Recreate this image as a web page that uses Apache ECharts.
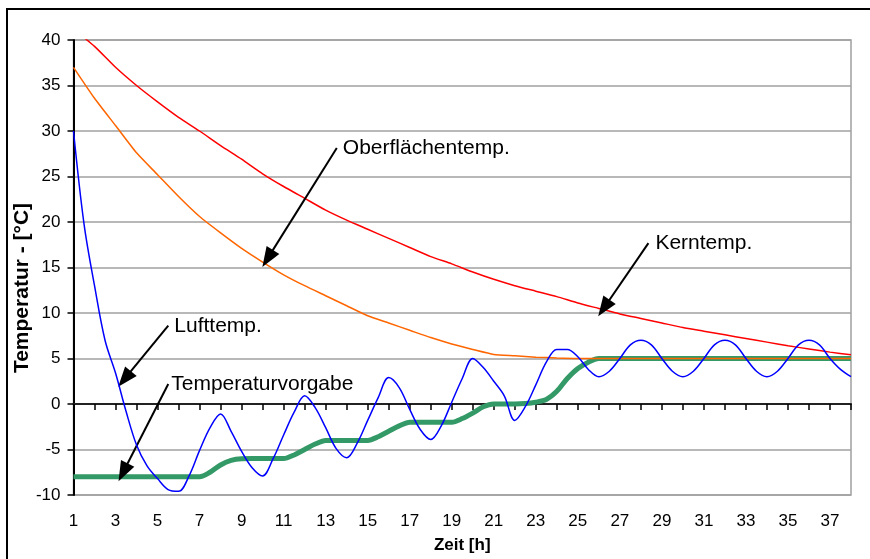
<!DOCTYPE html>
<html>
<head>
<meta charset="utf-8">
<script src="https://cdn.jsdelivr.net/npm/echarts@6/dist/echarts.min.js"></script>
<style>
html,body{margin:0;padding:0;background:#fff;overflow:hidden}
#frame{position:absolute;left:6px;top:8px;width:900px;height:600px;border-left:2px solid #000;border-top:2px solid #000}
#chart{position:absolute;left:0;top:0;width:870px;height:559px}
</style>
</head>
<body>
<div id="frame"></div>
<div id="chart"></div>
<script>
// hourly values (Kern- und Oberflächentemperatur)
const hoursCoarse = [1,2,3,4,5,6,7,8,9,10,11,12,13,14,15,16,17,18,19,20,21,22,23,24,25,26,27,28,29,30,31,32,33,34,35,36,37,38];
const kernTemp = [41.2,39.3,37.0,35.0,33.2,31.5,30.0,28.4,26.9,25.3,23.9,22.6,21.3,20.2,19.2,18.2,17.2,16.2,15.4,14.5,13.7,13.0,12.4,11.8,11.1,10.5,9.9,9.4,8.9,8.4,8.0,7.6,7.2,6.8,6.4,6.05,5.7,5.4];
const oberTemp = [37.0,33.6,30.6,27.6,25.2,22.8,20.6,18.8,17.1,15.6,14.2,13.0,11.9,10.8,9.7,8.9,8.1,7.3,6.6,6.0,5.45,5.3,5.15,5.05,5.0,5.0,5.0,5.0,5.0,5.0,5.0,5.0,5.0,5.0,5.0,5.0,5.0,5.0];

// half-hourly values (Lufttemperatur, Temperaturvorgabe)
const hoursFine = [1,1.5,2,2.5,3,3.5,4,4.5,5,5.5,6,6.5,7,7.5,8,8.5,9,9.5,10,10.5,11,11.5,12,12.5,13,13.5,14,14.5,15,15.5,16,16.5,17,17.5,18,18.5,19,19.5,20,20.5,21,21.5,22,22.5,23,23.5,24,24.5,25,25.5,26,26.5,27,27.5,28,28.5,29,29.5,30,30.5,31,31.5,32,32.5,33,33.5,34,34.5,35,35.5,36,36.5,37,37.5,38];
const luftTemp = [30,19.8,13.0,7.0,3.4,-0.8,-4.5,-6.8,-8.2,-9.4,-9.6,-7.9,-5.1,-2.6,-1.1,-3.0,-5.2,-7.0,-7.9,-6.0,-3.4,-0.9,0.9,-0.4,-2.6,-4.9,-5.9,-4.3,-1.8,0.7,2.9,1.8,-0.6,-2.8,-3.9,-2.4,0.2,2.8,5.0,4.0,2.5,0.9,-1.8,-0.3,2.1,4.6,6.0,6.0,5.2,3.8,3.0,3.6,5.0,6.5,7.0,6.5,5.0,3.6,3.0,3.6,5.0,6.5,7.0,6.5,5.0,3.6,3.0,3.6,5.0,6.5,7.0,6.5,5.0,3.8,3.0];
const vorgabe = [-8,-8,-8,-8,-8,-8,-8,-8,-8,-8,-8,-8,-8,-7.5,-6.7,-6.2,-6.02,-6,-6,-6,-6,-5.6,-5.0,-4.4,-4.0,-4,-4,-4,-4,-3.6,-3.0,-2.4,-2.0,-2,-2,-2,-2,-1.6,-1.0,-0.3,0,0,0,0.05,0.2,0.5,1.4,2.8,3.9,4.6,5.0,5,5,5,5,5,5,5,5,5,5,5,5,5,5,5,5,5,5,5,5,5,5,5,5];

const xTickLabels = [1,3,5,7,9,11,13,15,17,19,21,23,25,27,29,31,33,35,37];
const yTicks = [-10,-5,0,5,10,15,20,25,30,35,40];

const FONT = '"Liberation Sans", Arial, sans-serif';
const pairs = (xs, ys) => xs.map((x, i) => [x, ys[i]]);

const arrowLine = (from, to) => [{ coord: from }, { coord: to }];
const arrowStyle = {
  symbol: ['none', 'triangle'],
  symbolSize: [15, 20],
  silent: true,
  label: { show: false },
  lineStyle: { color: '#000', width: 2, type: 'solid' },
  itemStyle: { color: '#000' },
  emphasis: { disabled: true },
  animation: false
};
const textMark = (coord, text, dist) => ({
  coord: coord, value: text, symbolSize: 0,
  label: { show: true, position: 'right', distance: dist, formatter: text,
           color: '#000', fontSize: 21, fontFamily: FONT }
});
const textStyleMP = { silent: true, animation: false, symbol: 'circle', symbolSize: 0 };

const chart = echarts.init(document.getElementById('chart'), null, { renderer: 'canvas' });
chart.setOption({
  animation: false,
  backgroundColor: 'transparent',
  grid: { left: 73.5, right: 19, top: 40, bottom: 58.3, show: true, borderColor: '#a0a0a0', borderWidth: 1.5, backgroundColor: 'transparent' },
  xAxis: [
    {
      type: 'value', min: 1, max: 38, interval: 1, position: 'bottom',
      axisLine: { show: false, onZero: false },
      axisTick: { show: false },
      splitLine: { show: false },
      axisLabel: {
        margin: 18, color: '#000', fontSize: 17, fontFamily: FONT,
        formatter: v => (xTickLabels.indexOf(v) >= 0 ? String(v) : '')
      },
      name: 'Zeit [h]', nameLocation: 'middle', nameGap: 42,
      nameTextStyle: { color: '#000', fontSize: 17, fontWeight: 'bold', fontFamily: FONT }
    },
    {
      type: 'value', min: 1, max: 38, interval: 1, position: 'bottom',
      axisLine: { show: true, onZero: true, lineStyle: { color: '#222', width: 2 } },
      axisTick: { show: true, inside: false, length: 6, lineStyle: { color: '#000', width: 1.5 } },
      axisLabel: { show: false },
      splitLine: { show: false }
    }
  ],
  yAxis: {
    type: 'value', min: -10, max: 40, interval: 5,
    axisLine: { show: true, onZero: false, lineStyle: { color: '#000', width: 2 } },
    axisTick: { show: true, length: 6, lineStyle: { color: '#000', width: 1.5 } },
    axisLabel: { margin: 13, color: '#000', fontSize: 17, fontFamily: FONT },
    splitLine: { show: true, lineStyle: { color: '#a0a0a0', width: 1.5 } }
  },
  graphic: [
    {
      type: 'text', x: 22, y: 288, rotation: Math.PI / 2,
      style: { text: 'Temperatur - [°C]', fontSize: 21, fontWeight: 'bold', fontFamily: FONT,
               fill: '#000', align: 'center', verticalAlign: 'middle' }
    }
  ],
  series: [
    {
      name: 'Temperaturvorgabe', type: 'line', xAxisIndex: 0, data: pairs(hoursFine, vorgabe),
      showSymbol: false, smooth: 0.3, lineStyle: { color: '#339966', width: 5 }, itemStyle: { color: '#339966' },
      markLine: Object.assign({ data: [arrowLine([5.51, 2.19], [3.36, -7.5])] }, arrowStyle),
      markPoint: Object.assign({ data: [textMark([5.51, 2.19], 'Temperaturvorgabe', 3)] }, textStyleMP),
      z: 2
    },
    {
      name: 'Oberflächentemp.', type: 'line', xAxisIndex: 0, data: pairs(hoursCoarse, oberTemp),
      showSymbol: false, smooth: 0.2, lineStyle: { color: '#ff6600', width: 1.5 }, itemStyle: { color: '#ff6600' },
      markLine: Object.assign({ data: [arrowLine([13.53, 28.14], [10.24, 16.0])] }, arrowStyle),
      markPoint: Object.assign({ data: [textMark([13.53, 28.14], 'Oberflächentemp.', 6)] }, textStyleMP),
      z: 3
    },
    {
      name: 'Kerntemp.', type: 'line', xAxisIndex: 0, data: pairs(hoursCoarse, kernTemp),
      showSymbol: false, smooth: 0.2, lineStyle: { color: '#ff0000', width: 1.5 }, itemStyle: { color: '#ff0000' },
      markLine: Object.assign({ data: [arrowLine([28.36, 17.68], [26.24, 10.55])] }, arrowStyle),
      markPoint: Object.assign({ data: [textMark([28.36, 17.68], 'Kerntemp.', 7)] }, textStyleMP),
      z: 4
    },
    {
      name: 'Lufttemp.', type: 'line', xAxisIndex: 0, data: pairs(hoursFine, luftTemp),
      showSymbol: false, smooth: 0.35, lineStyle: { color: '#0000ff', width: 1.5 }, itemStyle: { color: '#0000ff' },
      markLine: Object.assign({ data: [arrowLine([5.51, 8.6], [3.43, 2.75])] }, arrowStyle),
      markPoint: Object.assign({ data: [textMark([5.51, 8.6], 'Lufttemp.', 6)] }, textStyleMP),
      z: 5
    }
  ]
});
</script>
</body>
</html>
